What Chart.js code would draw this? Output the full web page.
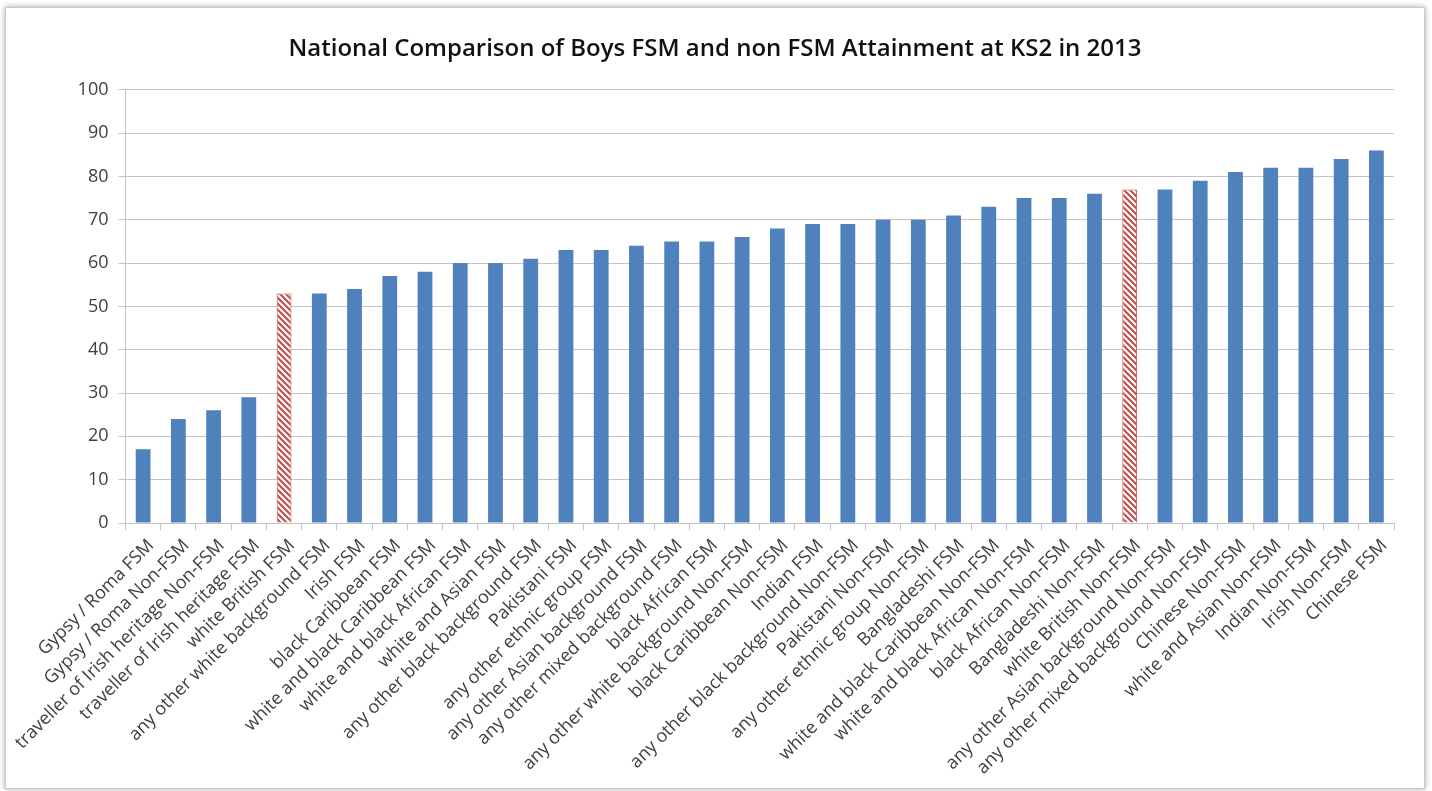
<!DOCTYPE html>
<html>
<head>
<meta charset="utf-8">
<script src="https://cdn.jsdelivr.net/npm/chart.js@4/dist/chart.umd.min.js"></script>
<style>
  html, body { margin: 0; padding: 0; background: #ffffff; }
  body { width: 1432px; height: 791px; position: relative; overflow: hidden; }
  #frame {
    position: absolute; left: 5px; top: 7px; width: 1418px; height: 780px;
    border: 1px solid #c8c8c8; background: #fff;
    box-shadow: 0 0 6px rgba(0, 0, 0, 0.35);
  }
  #chart { display: block; }
</style>
</head>
<body>
<div id="frame"><canvas id="chart" width="1418" height="780"></canvas></div>
<script>
// Chart values
const categories = [
  'Gypsy / Roma FSM', 'Gypsy / Roma Non-FSM', 'traveller of Irish heritage Non-FSM',
  'traveller of Irish heritage FSM', 'white British FSM', 'any other white background FSM',
  'Irish FSM', 'black Caribbean FSM', 'white and black Caribbean FSM',
  'white and black African FSM', 'white and Asian FSM', 'any other black background FSM',
  'Pakistani FSM', 'any other ethnic group FSM', 'any other Asian background FSM',
  'any other mixed background FSM', 'black African FSM', 'any other white background Non-FSM',
  'black Caribbean Non-FSM', 'Indian FSM', 'any other black background Non-FSM',
  'Pakistani Non-FSM', 'any other ethnic group Non-FSM', 'Bangladeshi FSM',
  'white and black Caribbean Non-FSM', 'white and black African Non-FSM', 'black African Non-FSM',
  'Bangladeshi Non-FSM', 'white British Non-FSM', 'any other Asian background Non-FSM',
  'any other mixed background Non-FSM', 'Chinese Non-FSM', 'white and Asian Non-FSM',
  'Indian Non-FSM', 'Irish Non-FSM', 'Chinese FSM'
]
const attainment = [
  17, 24, 26, 29, 53, 53, 54, 57, 58, 60, 60, 61, 63, 63, 64, 65, 65, 66,
  68, 69, 69, 70, 70, 71, 73, 75, 75, 76, 77, 77, 79, 81, 82, 82, 84, 86
]
const highlighted = ['white British FSM', 'white British Non-FSM']
const yTicks = [0, 10, 20, 30, 40, 50, 60, 70, 80, 90, 100]

const blue = '#4f81bd'
const red = '#c0504d'
const grid = '#c4c4c4'
const tickColor = '#404040'

// Function to build the red diagonal hatch
const makeHatch = () => {
  const size = 6
  const c = document.createElement('canvas')
  c.width = size
  c.height = size
  const g = c.getContext('2d')
  g.fillStyle = '#ffffff'
  g.fillRect(0, 0, size, size)
  g.strokeStyle = red
  g.lineWidth = 2.2
  g.beginPath()
  for (let k = -1; k <= 1; k++) {
    g.moveTo(k * size - 1, -1)
    g.lineTo(k * size + size + 1, size + 1)
  }
  g.stroke()
  return g.createPattern(c, 'repeat')
}

const hatch = makeHatch()
const isHighlighted = (name) => highlighted.includes(name)

new Chart(document.getElementById('chart'), {
  type: 'bar',
  data: {
    labels: categories,
    datasets: [{
      data: attainment,
      backgroundColor: categories.map(c => isHighlighted(c) ? hatch : blue),
      borderColor: categories.map(c => isHighlighted(c) ? red : blue),
      borderWidth: categories.map(c => isHighlighted(c) ? 1 : 0),
      barPercentage: 0.42,
      categoryPercentage: 1.0,
    }],
  },
  options: {
    responsive: false,
    animation: false,
    events: [],
    // equal side padding keeps the title centred on the frame
    layout: { padding: { left: 30, right: 30, top: 0, bottom: 0 } },
    plugins: {
      legend: { display: false },
      tooltip: { enabled: false },
      title: {
        display: true,
        text: 'National Comparison of Boys FSM and non FSM Attainment at KS2 in 2013',
        color: '#111111',
        font: { family: 'Open Sans', size: 24, weight: '600' },
        padding: { top: 27, bottom: 26 },
      },
    },
    scales: {
      x: {
        grid: {
          display: true,
          offset: true,
          drawOnChartArea: false,
          drawTicks: true,
          tickLength: 7,
          color: grid,
        },
        border: { display: true, color: grid, width: 1 },
        ticks: {
          autoSkip: false,
          maxRotation: 45,
          minRotation: 45,
          padding: 5,
          labelOffset: 8,
          color: tickColor,
          font: { family: 'Open Sans', size: 18 },
        },
        afterFit: (scale) => { scale.height = 265 },
      },
      y: {
        min: 0,
        max: 100,
        afterBuildTicks: (scale) => { scale.ticks = yTicks.map(v => ({ value: v })) },
        grid: { color: grid, lineWidth: 1, tickLength: 7, drawTicks: true },
        border: { display: true, color: grid, width: 1 },
        ticks: {
          padding: 10,
          color: tickColor,
          font: { family: 'Open Sans', size: 18 },
        },
        afterFit: (scale) => { scale.width = 89.5 },
      },
    },
  },
})
</script>
</body>
</html>
